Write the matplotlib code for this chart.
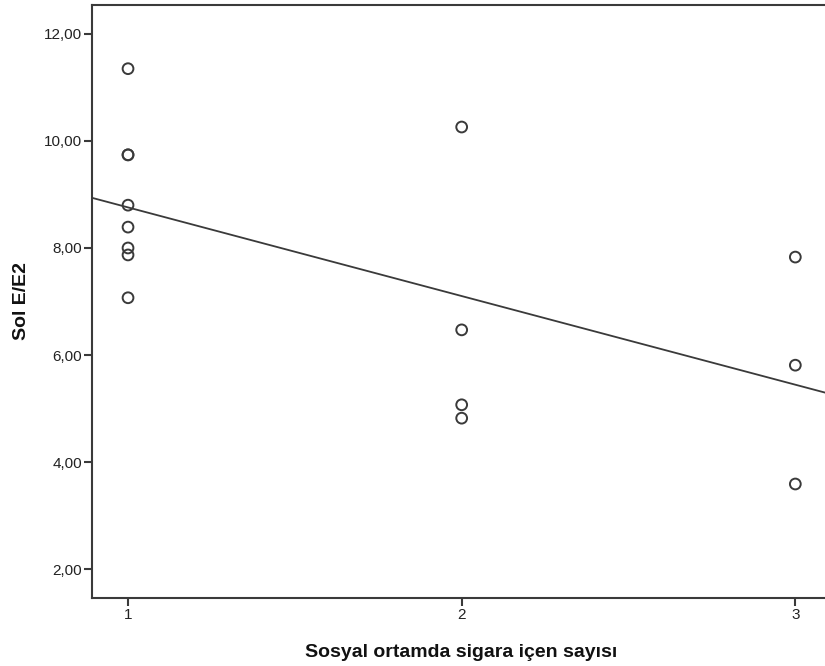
import numpy as np
import matplotlib
matplotlib.use("Agg")
import matplotlib.pyplot as plt
from matplotlib.ticker import FuncFormatter

plt.rcParams['font.family'] = ['Liberation Sans', 'DejaVu Sans']

# Number of smokers in social circle vs. left E/E2
smokers = [1, 1, 1, 1, 1, 1, 1, 1,
           2, 2, 2, 2,
           3, 3, 3]
sol_e_e2 = [11.35, 9.74, 9.74, 8.80, 8.39, 8.00, 7.87, 7.07,
            10.26, 6.47, 5.07, 4.82,
            7.83, 5.81, 3.59]

x_ticks = [1, 2, 3]
y_ticks = [2, 4, 6, 8, 10, 12]

x_label = "Sosyal ortamda sigara içen sayısı"
y_label = "Sol E/E2"

edge = "#3a3a3a"

fig = plt.figure(figsize=(8.25, 6.66), dpi=100)
ax = fig.add_axes([0.1115, 0.1021, 0.895, 0.8904])

x = np.array(smokers, dtype=float)
y = np.array(sol_e_e2, dtype=float)
ax.scatter(x, y, s=60, facecolors='none', edgecolors=edge, linewidths=1.4, zorder=3)

xlim = (0.892, 3.105)
slope, intercept = np.polyfit(x, y, 1)
xx = np.array(xlim)
ax.plot(xx, slope * xx + intercept, color=edge, lw=1.3, zorder=2)

ax.set_xlim(*xlim)
ax.set_ylim(1.46, 12.54)
ax.set_xticks(x_ticks)
ax.set_yticks(y_ticks)
ax.xaxis.set_major_formatter(FuncFormatter(lambda v, p: f"{int(v)}"))
ax.yaxis.set_major_formatter(FuncFormatter(lambda v, p: f"{v:.2f}".replace('.', ',')))

for s in ax.spines.values():
    s.set_color(edge)
    s.set_linewidth(1.5)

ax.tick_params(axis='both', direction='out', length=6, width=1.5, color=edge,
               labelsize=11, labelcolor='#222222', pad=1)

ax.set_xlabel(x_label, fontsize=14, fontweight='bold', labelpad=16, color='#111111')
ax.set_ylabel(y_label, fontsize=14, fontweight='bold', labelpad=10, color='#111111')

fig.savefig("out.png", dpi=100, facecolor='white')
